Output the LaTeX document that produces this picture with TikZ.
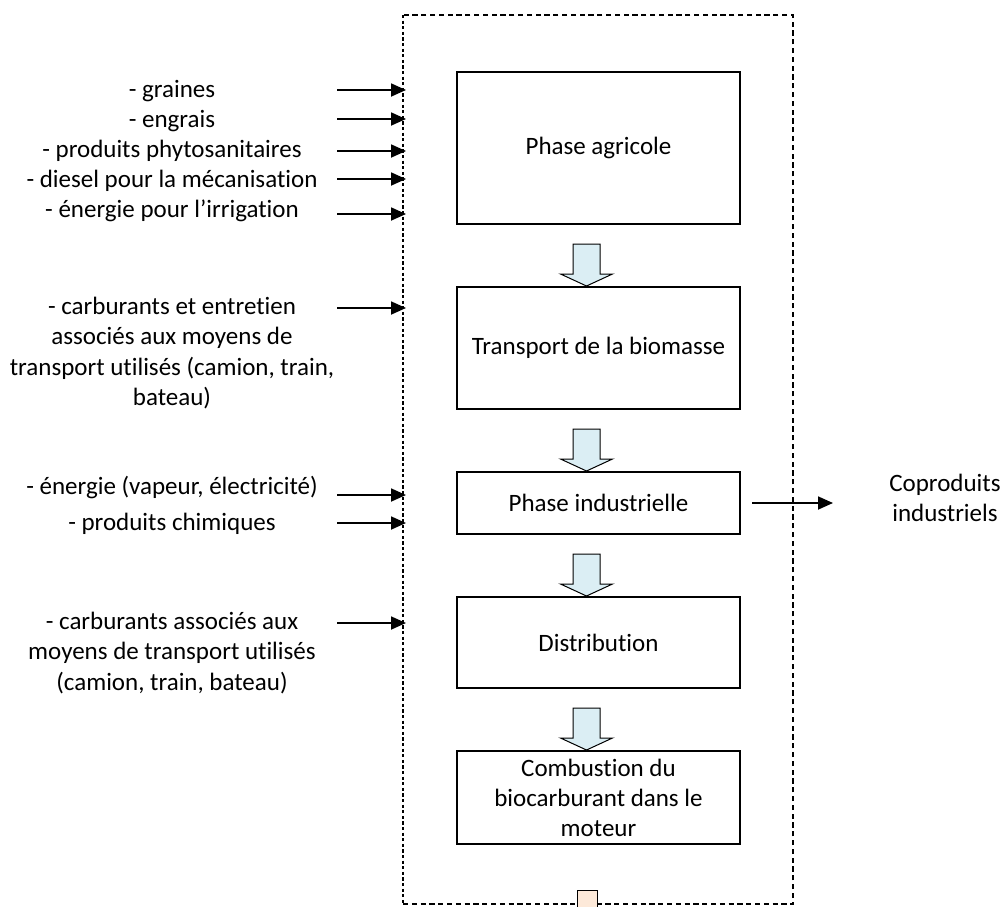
\documentclass[tikz,border=0pt]{standalone}
\usepackage{fontspec}
\setmainfont{Carlito}[Ligatures={NoCommon}]
\usetikzlibrary{arrows.meta,positioning,calc}
\definecolor{arrowblue}{HTML}{DBEEF4}
\definecolor{peach}{HTML}{FDE9D9}
\tikzset{
	phase/.style={draw,line width=1pt,minimum width=141.5pt,inner sep=2pt,align=center,font=\fontsize{12.5}{15}\selectfont},
	intext/.style={align=center,font=\fontsize{12.5}{15.1}\selectfont},
	inarrow/.style={-{Triangle[length=7.5pt,width=6.5pt]},line width=0.9pt},
	blockarrow/.style={draw,fill=arrowblue,line width=0.5pt,line join=miter},
	outblock/.style={draw,fill=peach,line width=0.5pt},
	frame/.style={line width=1.4pt,dash pattern=on 2.6pt off 1.8pt},
	framedot/.style={line width=1.4pt,dash pattern=on 1.6pt off 1.2pt}
}

\begin{document}
\begin{tikzpicture}[x=0.5pt,y=-0.5pt]
	\useasboundingbox (0,0) rectangle (1002,906);
	%%% frame of the system
	\draw[frame] (403,904) -- (793,904) -- (793,15) -- (403,15);
	\draw[framedot] (403,15) -- (403,904);
	%%% phases
	\node[phase,minimum height=76pt] (agri) at (598.5,148) {Phase agricole};
	\node[phase,minimum height=61pt] (trans) at (598.5,348) {Transport de la biomasse};
	\node[phase,minimum height=31pt] (indus) at (598.5,503) {Phase industrielle};
	\node[phase,minimum height=45.5pt] (distri) at (598.5,642.5) {Distribution};
	\node[phase,minimum height=46.5pt] (combu) at (598.5,797.5) {Combustion du\\biocarburant dans le\\moteur};
	\foreach \nxt in {trans,indus,distri,combu}
		\draw[blockarrow] ([xshift=-6pt]\nxt.north) -- ++(-26,-12) -- ++(12.5,0) -- ++(0,-30) -- ++(27,0) -- ++(0,30) -- ++(12.5,0) -- cycle;
	\draw[outblock] (577,907) |- (597,890) -- (597,907);
	%%% inputs
	\node[intext] (inagri) at (172,151) {- graines\\- engrais\\- produits phytosanitaires\\- diesel pour la m\'ecanisation\\- \'energie pour l'irrigation};
	\node[intext] (intrans) at (172,353) {- carburants et entretien\\associ\'es aux moyens de\\transport utilis\'es (camion, train,\\bateau)};
	\node[intext] (inener) at (172,487) {- \'energie (vapeur, \'electricit\'e)};
	\node[intext] (inchim) at (172,524) {- produits chimiques};
	\node[intext] (indistri) at (172,653) {- carburants associ\'es aux\\moyens de transport utilis\'es\\(camion, train, bateau)};
	\foreach \y [count=\i] in {90,119,151,179,214,308,495,523,623} {
		\coordinate (src\i) at (337,\y);
		\coordinate (dst\i) at (406,\y);
		\draw[inarrow] (src\i) -- (dst\i);
	}
	%%% outputs
	\node[intext] (copro) at (945,498) {Coproduits\\industriels};
	\coordinate (cosrc) at (752,503);
	\coordinate (codst) at (833,503);
	\draw[inarrow] (cosrc) -- (codst);
\end{tikzpicture}
\end{document}
